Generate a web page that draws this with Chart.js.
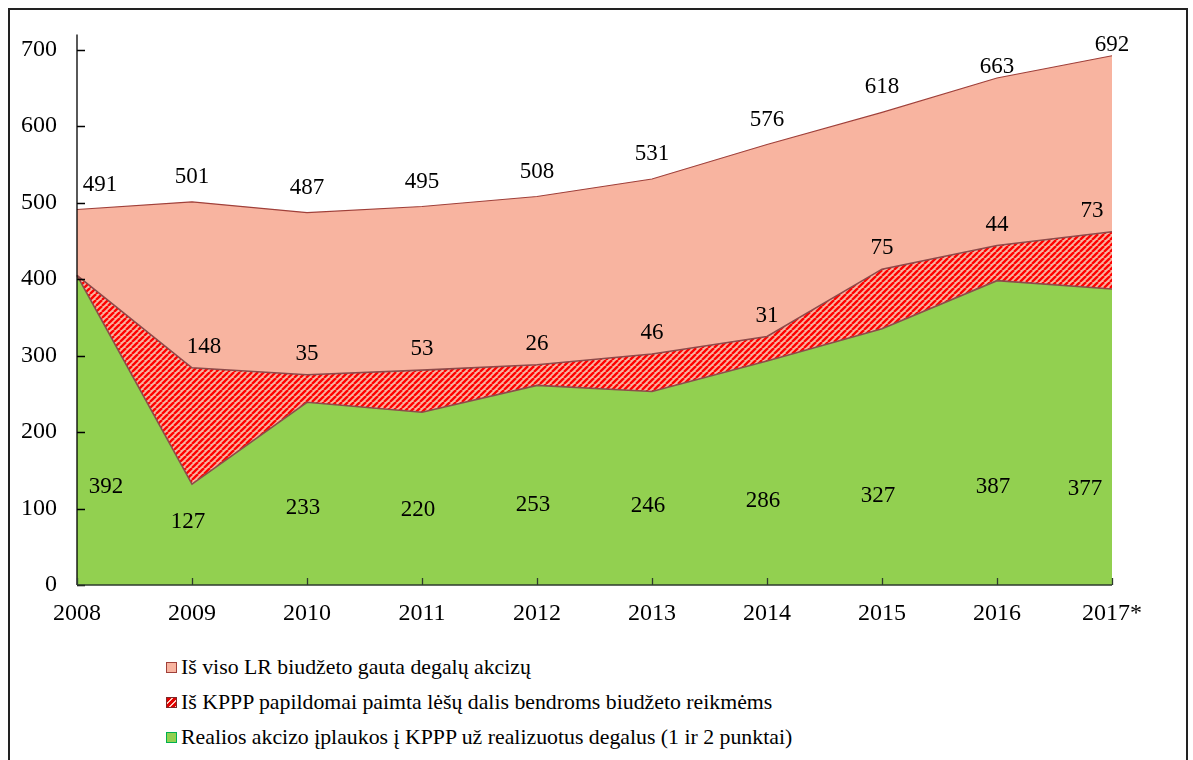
<!DOCTYPE html>
<html>
<head>
<meta charset="utf-8">
<script src="https://cdn.jsdelivr.net/npm/chart.js@4.4.0/dist/chart.umd.min.js"></script>
<style>
  html, body { margin: 0; padding: 0; background: #fff; }
  #remas {
    position: absolute; left: 8px; top: 8px; width: 1180px; height: 770px;
    border: 2px solid #222; box-sizing: border-box;
  }
  #grafikas { position: absolute; left: 0; top: 0; }
  .eilute {
    position: absolute; left: 166px; height: 24px; display: flex; align-items: center;
    font-family: "Liberation Serif", "Times New Roman", Times, serif; font-size: 21.8px; color: #000; white-space: nowrap;
  }
  .kvadratas { width: 11px; height: 11px; margin-right: 4px; box-sizing: border-box; flex: none; }
</style>
</head>
<body>
<div id="remas"></div>
<canvas id="grafikas" width="1193" height="640"></canvas>

<div class="eilute" style="top:655px">
  <div class="kvadratas" style="background:#F8B4A0;border:1px solid #A0403A"></div>
  <span>Iš viso LR biudžeto gauta degalų akcizų</span>
</div>
<div class="eilute" style="top:690px">
  <div class="kvadratas" style="background:repeating-linear-gradient(135deg,#E00000 0 3px,#FFD0C0 3px 4.5px);border:1px solid #7A2A2A"></div>
  <span>Iš KPPP papildomai paimta lėšų dalis bendroms biudžeto reikmėms</span>
</div>
<div class="eilute" style="top:725px">
  <div class="kvadratas" style="background:#92D050;border:1px solid #00B050"></div>
  <span>Realios akcizo įplaukos į KPPP už realizuotus degalus (1 ir 2 punktai)</span>
</div>

<script>
// Metai (x ašis)
var metai = ['2008', '2009', '2010', '2011', '2012', '2013', '2014', '2015', '2016', '2017*'];

// Iš viso LR biudžeto gauta degalų akcizų (viršutinė linija)
var isViso = [491, 501, 487, 495, 508, 531, 576, 618, 663, 692];

// Žalios srities viršus, kaip nupiešta paveiksle
var realiosVirsus = [405, 132, 239, 226, 261, 253, 293, 335, 398, 387];
// Brūkšniuotos srities viršus, kaip nupiešta paveiksle
var paimtaVirsus = [405, 284, 275, 281, 288, 302, 325, 413, 444, 462];

// Užrašytos reikšmės
var realiosUzrasai = [392, 127, 233, 220, 253, 246, 286, 327, 387, 377];
var paimtaUzrasai = [null, 148, 35, 53, 26, 46, 31, 75, 44, 73];

// y ašies žymės
var yZymes = [0, 100, 200, 300, 400, 500, 600, 700];

// Brūkšniuotas raštas raudonai sričiai
function sukurtiRasta() {
    var c = document.createElement('canvas');
    c.width = 6; c.height = 6;
    var g = c.getContext('2d');
    g.fillStyle = '#F8B4A0';
    g.fillRect(0, 0, 6, 6);
    g.strokeStyle = '#FF0000';
    g.lineWidth = 2.3;
    for (var k = -6; k <= 6; k += 6) {
        g.beginPath();
        g.moveTo(k, 6);
        g.lineTo(k + 6, 0);
        g.stroke();
    }
    return g.createPattern(c, 'repeat');
}

var sriftas = "'Liberation Serif', serif";

// Ašys ir vidinės žymelės piešiamos ant sričių
var asiuPlugin = {
    id: 'asys',
    afterDatasetsDraw: function (chart) {
        var ctx = chart.ctx;
        var ca = chart.chartArea;
        var xs = chart.scales.x, ys = chart.scales.y;
        ctx.save();
        ctx.lineWidth = 1.3;
        ctx.strokeStyle = '#000';
        ctx.beginPath();
        ctx.moveTo(ca.left, ca.top);
        ctx.lineTo(ca.left, ca.bottom);
        yZymes.forEach(function (v) {
            var py = Math.round(ys.getPixelForValue(v)) + 0.5;
            ctx.moveTo(ca.left, py);
            ctx.lineTo(ca.left + 8, py);
        });
        ctx.stroke();
        ctx.strokeStyle = '#2E3B2E';
        ctx.beginPath();
        ctx.moveTo(ca.left, ca.bottom);
        ctx.lineTo(ca.right, ca.bottom);
        for (var i = 0; i < metai.length; i++) {
            var px = Math.round(xs.getPixelForValue(i)) + 0.5;
            ctx.moveTo(px, ca.bottom);
            ctx.lineTo(px, ca.bottom - 7);
        }
        ctx.stroke();
        ctx.restore();
    }
};

// Duomenų užrašai
var uzrasuPlugin = {
    id: 'uzrasai',
    afterDraw: function (chart) {
        var ctx = chart.ctx;
        var xs = chart.scales.x, ys = chart.scales.y;
        var n = metai.length;
        ctx.save();
        ctx.font = '23px ' + sriftas;
        ctx.fillStyle = '#000';
        ctx.textAlign = 'center';
        ctx.textBaseline = 'middle';
        for (var i = 0; i < n; i++) {
            var x = xs.getPixelForValue(i);
            // viso
            var dx = i === 0 ? 23 : 0;
            var dy = i >= n - 2 ? 11 : 25;
            ctx.fillText(String(isViso[i]), x + dx, ys.getPixelForValue(isViso[i]) - dy);
            // paimta dalis
            if (paimtaUzrasai[i] !== null) {
                var dx2 = i === 1 ? 12 : (i === n - 1 ? -20 : 0);
                ctx.fillText(String(paimtaUzrasai[i]), x + dx2, ys.getPixelForValue(paimtaVirsus[i]) - 21);
            }
            // realios įplaukos
            var dx3 = i === 0 ? 29 : (i === n - 1 ? -27 : -4);
            ctx.fillText(String(realiosUzrasai[i]), x + dx3, ys.getPixelForValue(60 + 0.17 * realiosVirsus[i]));
        }
        ctx.restore();
    }
};

var ctx = document.getElementById('grafikas').getContext('2d');
var grafikas = new Chart(ctx, {
    type: 'line',
    data: {
        labels: metai,
        datasets: [{
            label: 'Realios akcizo įplaukos į KPPP už realizuotus degalus (1 ir 2 punktai)',
            data: realiosVirsus,
            backgroundColor: '#92D050',
            borderColor: '#8E4A4A',
            borderWidth: 1.6,
            fill: 'origin',
            pointRadius: 0,
            tension: 0
        }, {
            label: 'Iš KPPP papildomai paimta lėšų dalis bendroms biudžeto reikmėms',
            data: paimtaVirsus,
            backgroundColor: sukurtiRasta(),
            borderColor: '#8E4A4A',
            borderWidth: 1.6,
            fill: '-1',
            pointRadius: 0,
            tension: 0
        }, {
            label: 'Iš viso LR biudžeto gauta degalų akcizų',
            data: isViso,
            backgroundColor: '#F8B4A0',
            borderColor: '#A0403A',
            borderWidth: 1.1,
            fill: '-1',
            pointRadius: 0,
            tension: 0
        }]
    },
    options: {
        responsive: false,
        animation: false,
        layout: { padding: { left: 0, right: 81, top: 33, bottom: 0 } },
        plugins: {
            legend: { display: false },
            tooltip: { enabled: false }
        },
        scales: {
            x: {
                offset: false,
                grid: { display: false, drawTicks: false },
                border: { display: false },
                ticks: {
                    padding: 14,
                    color: '#000',
                    maxRotation: 0,
                    font: { family: sriftas, size: 24 }
                },
                afterFit: function (s) { s.height = 55; }
            },
            y: {
                min: 0,
                max: 720,
                grid: { display: false, drawTicks: false },
                border: { display: false },
                afterBuildTicks: function (s) {
                    s.ticks = yZymes.map(function (v) { return { value: v }; });
                },
                ticks: {
                    padding: 20,
                    color: '#000',
                    font: { family: sriftas, size: 24 }
                },
                afterFit: function (s) { s.width = 77; }
            }
        }
    },
    plugins: [asiuPlugin, uzrasuPlugin]
});
</script>
</body>
</html>
